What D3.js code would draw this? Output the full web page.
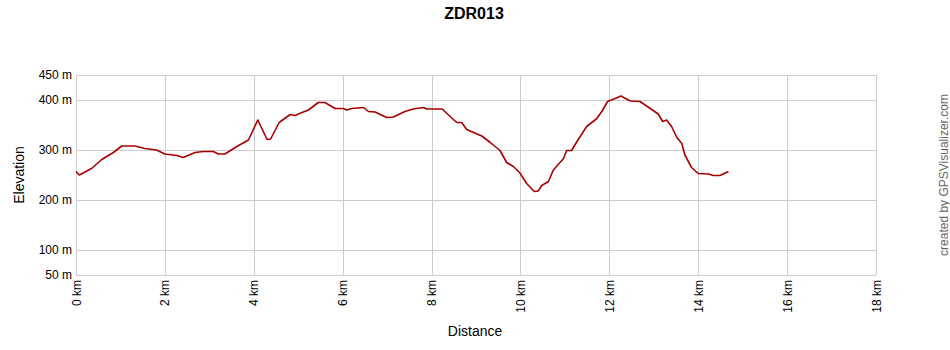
<!DOCTYPE html>
<html>
<head>
<meta charset="utf-8">
<script src="https://cdn.jsdelivr.net/npm/d3@7"></script>
<style>
  body { margin: 0; background: #fff; }
  text { font-family: Arial, "Liberation Sans", sans-serif; }
</style>
</head>
<body>
<svg id="chart" width="950" height="350"></svg>
<script>
// data
let distanceKm = [0, 0.075, 0.35, 0.58, 0.84, 1.03, 1.33, 1.55, 1.81, 2.0, 2.27, 2.41, 2.68, 2.86, 3.09, 3.2, 3.35,
  3.62, 3.88, 4.09, 4.3, 4.38, 4.57, 4.82, 4.93, 5.03, 5.23, 5.45, 5.6, 5.83, 6.02, 6.09, 6.2, 6.47, 6.58, 6.73,
  6.99, 7.14, 7.4, 7.59, 7.82, 7.89, 8.24, 8.49, 8.57, 8.68, 8.79, 9.13, 9.32, 9.54, 9.69, 9.84, 9.98, 10.14,
  10.31, 10.4, 10.48, 10.63, 10.74, 10.97, 11.04, 11.15, 11.3, 11.49, 11.72, 11.83, 11.96, 12.13, 12.26, 12.47,
  12.69, 12.92, 13.1, 13.2, 13.29, 13.4, 13.52, 13.63, 13.7, 13.85, 14.0, 14.23, 14.34, 14.49, 14.68];
let elevationM = [257, 250, 263, 281, 295, 308, 308, 303, 300, 292, 289, 285, 295, 297, 297, 292, 292,
  307, 320, 360, 321, 322, 355, 371, 369, 373, 380, 395, 395, 383, 383, 380, 383, 385, 377, 376,
  365, 366, 377, 382, 385, 382, 382, 361, 355, 355, 341, 328, 315, 299, 275, 267, 255, 233,
  217, 218, 229, 237, 260, 283, 299, 299, 321, 347, 363, 377, 397, 403, 408, 398,
  397, 383, 372, 357, 360, 347, 325, 313, 290, 265, 253, 252, 249, 249, 257];

let xTicks = [0, 2, 4, 6, 8, 10, 12, 14, 16, 18];
let yTicks = [50, 100, 200, 300, 400, 450];

const svg = d3.select("#chart");
const plotLeft = 76, plotRight = 876, plotTop = 75, plotBottom = 275;

let x = d3.scaleLinear().domain([0, 18]).range([plotLeft, plotRight]);
let y = d3.scaleLinear().domain([50, 450]).range([plotBottom, plotTop]);

// grid
svg.append("g").selectAll("line").data(yTicks).join("line")
  .attr("x1", plotLeft).attr("x2", plotRight)
  .attr("y1", d => y(d) + 0.5).attr("y2", d => y(d) + 0.5)
  .attr("stroke", "#cccccc");
svg.append("g").selectAll("line").data(xTicks).join("line")
  .attr("x1", d => Math.round(x(d)) + 0.5).attr("x2", d => Math.round(x(d)) + 0.5)
  .attr("y1", plotTop).attr("y2", plotBottom)
  .attr("stroke", "#cccccc");

// y tick labels
svg.append("g").selectAll("text").data(yTicks).join("text")
  .attr("x", 72).attr("y", d => y(d) + 4)
  .attr("text-anchor", "end")
  .attr("font-size", 12)
  .attr("fill", "#000")
  .text(d => d + " m");

// x tick labels (rotated)
svg.append("g").selectAll("text").data(xTicks).join("text")
  .attr("transform", d => "translate(" + (x(d) + 4.5) + "," + (plotBottom + 5) + ") rotate(-90)")
  .attr("text-anchor", "end")
  .attr("font-size", 12)
  .attr("fill", "#000")
  .text(d => d + " km");

// profile line
let line = d3.line()
  .x((d, i) => x(distanceKm[i]))
  .y(d => y(d));

svg.append("path")
  .datum(elevationM)
  .attr("fill", "none")
  .attr("stroke", "#a80000")
  .attr("stroke-width", 1.6)
  .attr("stroke-linejoin", "round")
  .attr("d", line);

// titles
svg.append("text")
  .attr("x", 474).attr("y", 19)
  .attr("text-anchor", "middle")
  .attr("font-size", 16).attr("font-weight", "bold")
  .attr("font-family", "'Liberation Sans Narrow', Arial, sans-serif")
  .text("ZDR013");

svg.append("text")
  .attr("x", 475).attr("y", 336)
  .attr("text-anchor", "middle")
  .attr("font-size", 14)
  .text("Distance");

svg.append("text")
  .attr("transform", "translate(24,175) rotate(-90)")
  .attr("text-anchor", "middle")
  .attr("font-size", 14)
  .text("Elevation");

svg.append("text")
  .attr("transform", "translate(948,175) rotate(-90)")
  .attr("text-anchor", "middle")
  .attr("font-size", 12)
  .attr("fill", "#666")
  .text("created by GPSVisualizer.com");
</script>
</body>
</html>
